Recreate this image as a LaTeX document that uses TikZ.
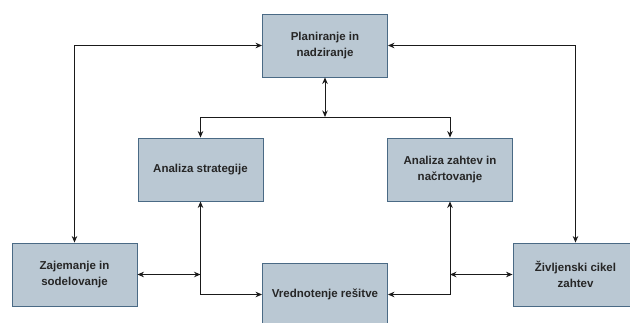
\documentclass[tikz,border=0pt]{standalone}
\usepackage{fontspec}
\setmainfont{Liberation Sans}
\usetikzlibrary{arrows.meta}
\definecolor{boxfill}{HTML}{BAC8D3}
\definecolor{boxline}{HTML}{4A6A85}
\definecolor{conn}{HTML}{1A1A1A}
\begin{document}
\begin{tikzpicture}[x=1pt,y=-1pt,
  procbox/.style={draw=boxline, fill=boxfill, line width=0.9pt, minimum width=125pt, minimum height=63pt, inner sep=0pt, align=center, font=\fontsize{11.5}{16}\selectfont\bfseries, text=black!85},
  link/.style={draw=conn, line width=0.9pt},
  tip/.style={-{Stealth[length=6.5pt,width=5.5pt]}},
  tips/.style={{Stealth[length=6.5pt,width=5.5pt]}-{Stealth[length=6.5pt,width=5.5pt]}}]
\useasboundingbox (0,0) rectangle (630,322);
\node[procbox] (plan) at (325,45.5) {Planiranje in\\nadziranje};
\node[procbox] (strat) at (200.5,169.5) {Analiza strategije};
\node[procbox] (zaht) at (450,169.5) {Analiza zahtev in\\načrtovanje};
\node[procbox] (zaj) at (74.5,274.5) {Zajemanje in\\sodelovanje};
\node[procbox] (ziv) at (575.5,274.5) {Življenski cikel\\zahtev};
\node[procbox] (vred) at (325,294.5) {Vrednotenje rešitve};
\coordinate (j) at (325,117);
\coordinate (jl) at (200.5,117);
\coordinate (jr) at (450,117);
\coordinate (ml) at (200.5,274.5);
\coordinate (mr) at (450,274.5);
\coordinate (bl) at (200.5,294.5);
\coordinate (br) at (450,294.5);
% outer loops
\draw[link,tips] (zaj.north) |- (plan.west);
\draw[link,tips] (ziv.north) |- (plan.east);
% top center
\draw[link,tips] (plan.south) -- (j);
\draw[link] (jl) -- (jr);
\draw[link,tip] (jl) -- (strat.north);
\draw[link,tip] (jr) -- (zaht.north);
% side middle
\draw[link,tips] (zaj.east) -- (ml);
\draw[link,tips] (ziv.west) -- (mr);
% lower loops
\draw[link,tips] (strat.south) -- (bl) -- (vred.west);
\draw[link,tips] (zaht.south) -- (br) -- (vred.east);
\end{tikzpicture}
\end{document}
